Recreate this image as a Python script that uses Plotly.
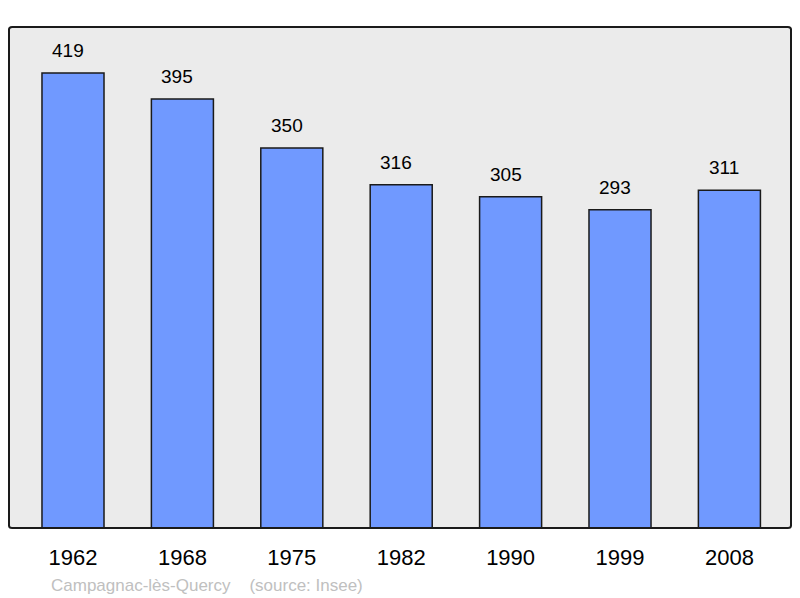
import plotly.graph_objects as go

years = ["1962", "1968", "1975", "1982", "1990", "1999", "2008"]
population = [419, 395, 350, 316, 305, 293, 311]

x_idx = list(range(len(years)))

fig = go.Figure()
fig.add_trace(go.Bar(
    x=x_idx, y=population, width=0.567,
    marker=dict(color="#7099ff", line=dict(color="#1a1a1a", width=1.5)),
    hoverinfo="skip",
))

for xi, v in zip(x_idx, population):
    fig.add_annotation(x=xi, y=v, text=str(v), showarrow=False, yanchor="bottom",
                       yshift=10, xshift=-5,
                       font=dict(family="Liberation Sans, Arial", size=19, color="#000"))

fig.add_annotation(xref="paper", yref="paper", x=(49 - 9) / 782, y=-(585 - 528) / 501,
                   text="Campagnac-lès-Quercy&nbsp;&nbsp;&nbsp;&nbsp;(source: Insee)",
                   showarrow=False, xanchor="left", yanchor="middle",
                   font=dict(family="Liberation Sans, Arial", size=17, color="#c0c0c0"))

fig.update_layout(
    width=800, height=598,
    margin=dict(l=9, r=9, t=27, b=70),
    paper_bgcolor="#ffffff",
    plot_bgcolor="#ebebeb",
    showlegend=False,
    xaxis=dict(range=[-0.585, 6.563], tickmode="array", tickvals=x_idx, ticktext=years,
               showgrid=False, zeroline=False, showline=False, ticks="",
               ticklabelstandoff=14,
               tickfont=dict(family="Liberation Sans, Arial", size=22, color="#000"),
               fixedrange=True),
    yaxis=dict(range=[0, 461.3], showgrid=False, zeroline=False, showline=False,
               showticklabels=False, ticks="", fixedrange=True),
    shapes=[dict(type="path", xref="paper", yref="paper",
                 path="M 0.004,0 L 0.996,0 Q 1,0 1,0.005 L 1,0.995 Q 1,1 0.996,1 L 0.004,1 Q 0,1 0,0.995 L 0,0.005 Q 0,0 0.004,0 Z",
                 line=dict(color="#1a1a1a", width=2), layer="above")],
)

fig.write_html("out.html", config={"displayModeBar": False},
               post_script="document.body.style.margin='0';document.body.style.overflow='hidden';")
